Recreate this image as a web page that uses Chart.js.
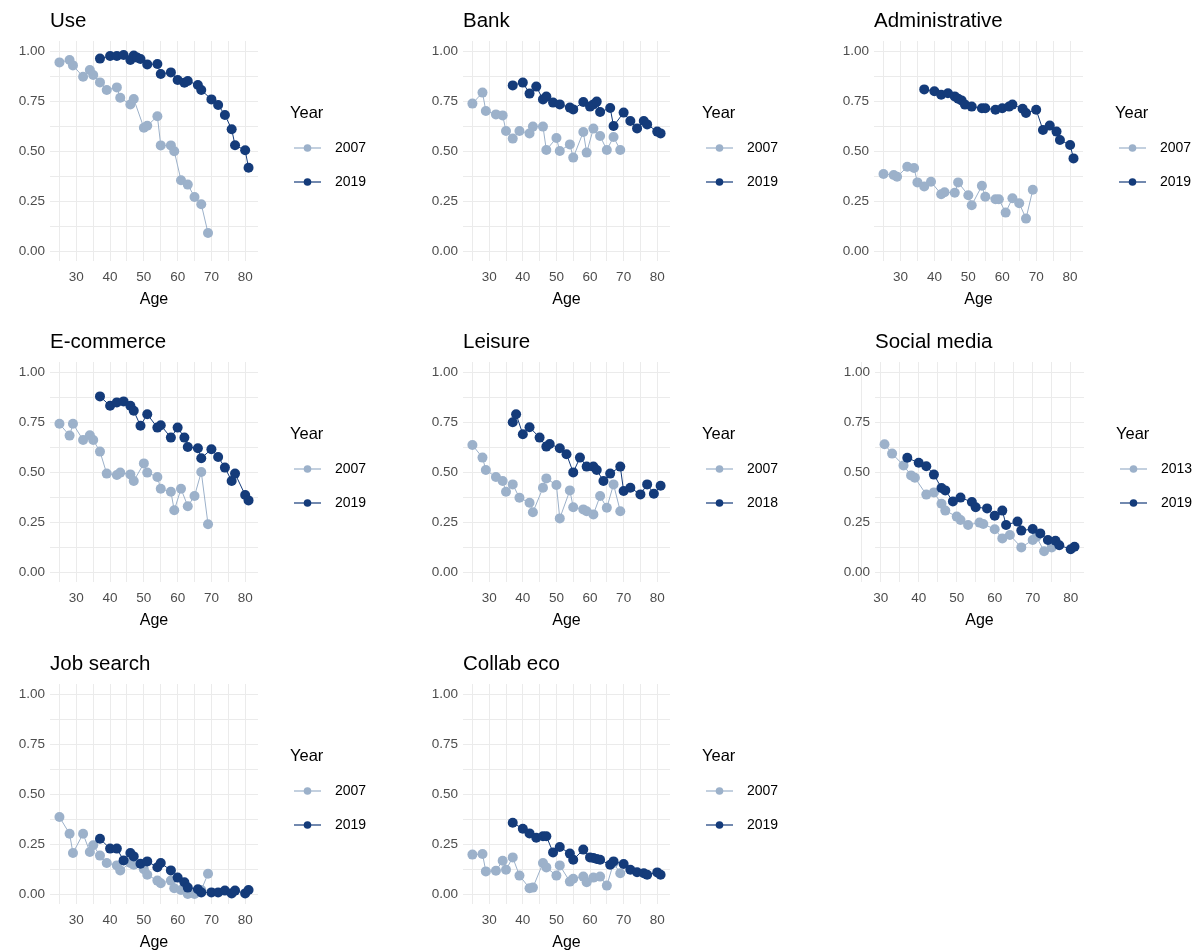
<!DOCTYPE html>
<html>
<head>
<meta charset="utf-8">
<script src="https://cdn.jsdelivr.net/npm/chart.js@4.4.0/dist/chart.umd.min.js"></script>
<style>
  body { margin: 0; background: #fff; width: 1198px; height: 951px; overflow: hidden; position: relative; }
  canvas { position: absolute; }
</style>
</head>
<body>
<script>
// ages surveyed in the first wave (same for every panel)
const ages2007 = [25, 28, 29, 32, 34, 35, 37, 39, 42, 43, 46, 47, 50, 51, 54, 55, 58, 59, 61, 63, 65, 67, 69];

const use2007 = [0.943, 0.955, 0.928, 0.871, 0.905, 0.88, 0.843, 0.805, 0.818, 0.766, 0.733, 0.76, 0.616, 0.626, 0.674, 0.528, 0.528, 0.499, 0.354, 0.332, 0.27, 0.234, 0.09];
const useAges2019 = [37, 40, 42, 44, 46, 47, 48, 49, 51, 54, 55, 58, 60, 62, 63, 66, 67, 70, 72, 74, 76, 77, 80, 81];
const use2019 = [0.962, 0.975, 0.975, 0.98, 0.955, 0.977, 0.967, 0.96, 0.933, 0.935, 0.885, 0.893, 0.855, 0.841, 0.85, 0.83, 0.805, 0.758, 0.73, 0.68, 0.609, 0.529, 0.504, 0.416];

const bank2007 = [0.737, 0.792, 0.70, 0.683, 0.678, 0.60, 0.562, 0.60, 0.588, 0.622, 0.622, 0.505, 0.565, 0.50, 0.533, 0.467, 0.595, 0.492, 0.612, 0.575, 0.505, 0.57, 0.505];
const bankAges2019 = [37, 40, 42, 44, 46, 47, 49, 51, 54, 55, 58, 60, 61, 62, 63, 66, 67, 70, 72, 74, 76, 77, 80, 81];
const bank2019 = [0.828, 0.842, 0.787, 0.822, 0.758, 0.772, 0.742, 0.733, 0.717, 0.708, 0.745, 0.722, 0.733, 0.747, 0.695, 0.715, 0.625, 0.692, 0.65, 0.613, 0.65, 0.633, 0.597, 0.588];

const admin2007 = [0.385, 0.38, 0.371, 0.421, 0.415, 0.343, 0.323, 0.346, 0.284, 0.294, 0.291, 0.343, 0.279, 0.229, 0.326, 0.271, 0.259, 0.259, 0.192, 0.264, 0.239, 0.162, 0.306];
const adminAges2019 = [37, 40, 42, 44, 46, 47, 48, 49, 51, 54, 55, 58, 60, 62, 63, 66, 67, 70, 72, 74, 76, 77, 80, 81];
const admin2019 = [0.808, 0.799, 0.781, 0.789, 0.773, 0.761, 0.753, 0.732, 0.722, 0.714, 0.714, 0.706, 0.714, 0.722, 0.732, 0.711, 0.69, 0.706, 0.605, 0.627, 0.597, 0.555, 0.53, 0.463];

const ecom2007 = [0.741, 0.682, 0.741, 0.66, 0.684, 0.66, 0.602, 0.492, 0.485, 0.497, 0.488, 0.455, 0.543, 0.497, 0.475, 0.416, 0.401, 0.309, 0.416, 0.329, 0.38, 0.50, 0.239];
const ecomAges2019 = [37, 40, 42, 44, 46, 47, 49, 51, 54, 55, 58, 60, 62, 63, 66, 67, 70, 72, 74, 76, 77, 80, 81];
const ecom2019 = [0.878, 0.831, 0.848, 0.853, 0.831, 0.806, 0.731, 0.789, 0.722, 0.734, 0.672, 0.722, 0.672, 0.625, 0.619, 0.569, 0.614, 0.575, 0.522, 0.455, 0.492, 0.385, 0.358];

const leisure2007 = [0.635, 0.572, 0.51, 0.475, 0.455, 0.401, 0.438, 0.371, 0.346, 0.299, 0.421, 0.468, 0.435, 0.268, 0.408, 0.324, 0.313, 0.304, 0.288, 0.38, 0.321, 0.438, 0.304];
const leisureAges2018 = [37, 38, 40, 42, 45, 47, 48, 51, 53, 55, 57, 59, 61, 62, 64, 66, 69, 70, 72, 75, 77, 79, 81];
const leisure2018 = [0.749, 0.789, 0.689, 0.724, 0.672, 0.627, 0.64, 0.619, 0.589, 0.498, 0.572, 0.527, 0.527, 0.51, 0.455, 0.492, 0.527, 0.405, 0.421, 0.388, 0.438, 0.391, 0.431];

const socialAges2013 = [31, 33, 36, 38, 39, 42, 44, 46, 47, 50, 51, 53, 56, 57, 60, 62, 64, 67, 70, 71, 73, 75];
const social2013 = [0.639, 0.592, 0.533, 0.483, 0.471, 0.387, 0.398, 0.341, 0.307, 0.277, 0.26, 0.235, 0.247, 0.24, 0.214, 0.168, 0.185, 0.123, 0.16, 0.176, 0.104, 0.123];
const socialAges2019 = [37, 40, 42, 44, 46, 47, 49, 51, 54, 55, 58, 60, 62, 63, 66, 67, 70, 72, 74, 76, 77, 80, 81];
const social2019 = [0.571, 0.546, 0.529, 0.487, 0.42, 0.408, 0.353, 0.372, 0.35, 0.324, 0.318, 0.281, 0.307, 0.235, 0.252, 0.207, 0.215, 0.193, 0.16, 0.156, 0.134, 0.114, 0.126];

const job2007 = [0.385, 0.301, 0.205, 0.301, 0.21, 0.244, 0.192, 0.155, 0.143, 0.118, 0.155, 0.146, 0.124, 0.096, 0.067, 0.054, 0.067, 0.029, 0.02, 0.0, 0.0, 0.02, 0.101];
const jobAges2019 = [37, 40, 42, 44, 46, 47, 49, 51, 54, 55, 58, 60, 62, 63, 66, 67, 70, 72, 74, 76, 77, 80, 81];
const job2019 = [0.276, 0.227, 0.227, 0.168, 0.205, 0.188, 0.151, 0.163, 0.134, 0.155, 0.118, 0.082, 0.059, 0.032, 0.024, 0.008, 0.008, 0.008, 0.017, 0.003, 0.017, 0.003, 0.02];

const collab2007 = [0.197, 0.2, 0.113, 0.116, 0.166, 0.121, 0.183, 0.092, 0.029, 0.032, 0.155, 0.133, 0.092, 0.143, 0.062, 0.076, 0.087, 0.059, 0.082, 0.087, 0.042, 0.155, 0.104];
const collabAges2019 = [37, 40, 42, 44, 46, 47, 49, 51, 54, 55, 58, 60, 61, 62, 63, 66, 67, 70, 72, 74, 76, 77, 80, 81];
const collab2019 = [0.356, 0.326, 0.303, 0.281, 0.289, 0.289, 0.208, 0.235, 0.202, 0.171, 0.222, 0.183, 0.18, 0.175, 0.171, 0.146, 0.163, 0.15, 0.121, 0.109, 0.104, 0.096, 0.108, 0.096];

// tick positions (minor + major) and labelled ones
const xTicks = [25, 30, 35, 40, 45, 50, 55, 60, 65, 70, 75, 80];
const xLabels = [30, 40, 50, 60, 70, 80];
const yTicks = [0, 0.125, 0.25, 0.375, 0.5, 0.625, 0.75, 0.875, 1];
const yLabels = [0, 0.25, 0.5, 0.75, 1];

const LIGHT = '#9cb1ca';
const DARK = '#143b7a';
const FONT = '"Liberation Sans", Arial, sans-serif';

const panels = [
  { title: 'Use', col: 0, row: 0, a: [ages2007, use2007, '2007'], b: [useAges2019, use2019, '2019'] },
  { title: 'Bank', col: 1, row: 0, a: [ages2007, bank2007, '2007'], b: [bankAges2019, bank2019, '2019'] },
  { title: 'Administrative', col: 2, row: 0, a: [ages2007, admin2007, '2007'], b: [adminAges2019, admin2019, '2019'] },
  { title: 'E-commerce', col: 0, row: 1, a: [ages2007, ecom2007, '2007'], b: [ecomAges2019, ecom2019, '2019'] },
  { title: 'Leisure', col: 1, row: 1, a: [ages2007, leisure2007, '2007'], b: [leisureAges2018, leisure2018, '2018'] },
  { title: 'Social media', col: 2, row: 1, a: [socialAges2013, social2013, '2013'], b: [socialAges2019, social2019, '2019'], social: true },
  { title: 'Job search', col: 0, row: 2, a: [ages2007, job2007, '2007'], b: [jobAges2019, job2019, '2019'] },
  { title: 'Collab eco', col: 1, row: 2, a: [ages2007, collab2007, '2007'], b: [collabAges2019, collab2019, '2019'] }
];

const colX = [0, 400, 800];
const rowY = [0, 321, 643];
// plot area left/right inside each 400px column
const plotLR = [[50, 258], [63, 270], [74, 283]];

const panelDecor = {
  id: 'panelDecor',
  afterDraw(chart, args, opts) {
    const ctx = chart.ctx;
    const area = chart.chartArea;
    ctx.save();
    ctx.fillStyle = '#000';
    ctx.textAlign = 'left';
    ctx.textBaseline = 'alphabetic';
    ctx.font = '20.5px ' + FONT;
    ctx.fillText(opts.title, area.left, 26.5);

    const lx = area.right + 32;
    ctx.textBaseline = 'middle';
    ctx.font = '16.5px ' + FONT;
    ctx.fillText('Year', lx, 113);
    chart.data.datasets.forEach((ds, i) => {
      const y = 148 + i * 34;
      ctx.strokeStyle = ds.borderColor;
      ctx.lineWidth = 1.2;
      ctx.beginPath();
      ctx.moveTo(lx + 4, y);
      ctx.lineTo(lx + 31, y);
      ctx.stroke();
      ctx.fillStyle = ds.borderColor;
      ctx.beginPath();
      ctx.arc(lx + 17.5, y, 3.8, 0, Math.PI * 2);
      ctx.fill();
      ctx.fillStyle = '#000';
      ctx.font = '14px ' + FONT;
      ctx.fillText(ds.label, lx + 45, y);
    });
    ctx.restore();
  }
};

function toPoints(ages, vals) {
  return ages.map((a, i) => ({ x: a, y: vals[i] }));
}

function isMajorX(v) { return xLabels.includes(v); }
function isMajorY(v) { return yLabels.some(t => Math.abs(t - v) < 1e-9); }

panels.forEach(p => {
  const cv = document.createElement('canvas');
  cv.width = 400;
  cv.height = 321;
  cv.style.left = colX[p.col] + 'px';
  cv.style.top = rowY[p.row] + 'px';
  cv.style.width = '400px';
  cv.style.height = '321px';
  document.body.appendChild(cv);

  let [left, right] = plotLR[p.col];
  let xmin = 22.2, xmax = 83.8;
  if (p.social) { left = 75; right = 284; xmin = 28.5; xmax = 83.5; }

  new Chart(cv, {
    type: 'scatter',
    data: {
      datasets: [
        { label: p.a[2], data: toPoints(p.a[0], p.a[1]), borderColor: LIGHT, backgroundColor: LIGHT, order: 2 },
        { label: p.b[2], data: toPoints(p.b[0], p.b[1]), borderColor: DARK, backgroundColor: DARK, order: 1 }
      ].map(d => Object.assign(d, { showLine: true, borderWidth: 1, pointRadius: 5, pointBorderWidth: 0, pointHoverRadius: 5 }))
    },
    options: {
      responsive: false,
      animation: false,
      devicePixelRatio: 1,
      events: [],
      layout: { padding: { left: 0, right: 400 - right, top: 41, bottom: 12 } },
      plugins: {
        legend: { display: false },
        tooltip: { enabled: false },
        panelDecor: { title: p.title }
      },
      scales: {
        x: {
          type: 'linear',
          min: xmin,
          max: xmax,
          afterBuildTicks: s => { s.ticks = xTicks.map(v => ({ value: v })); },
          afterFit: s => { s.height = 48; },
          grid: { color: '#ebebeb', lineWidth: 1, drawTicks: false },
          border: { display: false },
          ticks: {
            autoSkip: false, maxRotation: 0, padding: 8,
            color: '#4d4d4d', font: { family: FONT, size: 13.5 },
            callback: v => isMajorX(v) ? String(v) : ''
          },
          title: { display: true, text: 'Age', color: '#000', font: { family: FONT, size: 16 }, padding: 0 }
        },
        y: {
          min: -0.05,
          max: 1.05,
          afterBuildTicks: s => { s.ticks = yTicks.map(v => ({ value: v })); },
          afterFit: s => { s.width = left; },
          grid: { color: '#ebebeb', lineWidth: 1, drawTicks: false },
          border: { display: false },
          ticks: {
            autoSkip: false, padding: 5,
            color: '#4d4d4d', font: { family: FONT, size: 13.5 },
            callback: v => isMajorY(v) ? v.toFixed(2) : ''
          }
        }
      }
    },
    plugins: [panelDecor]
  });
});
</script>
</body>
</html>
